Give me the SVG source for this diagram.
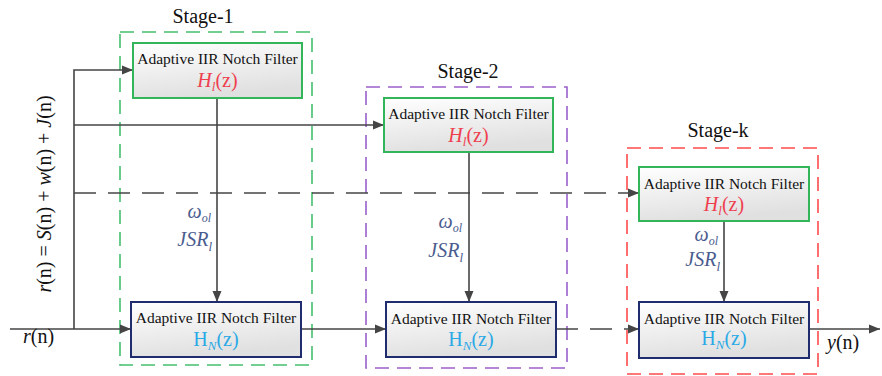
<svg xmlns="http://www.w3.org/2000/svg" width="882" height="376" viewBox="0 0 882 376" font-family="'Liberation Serif', 'Times New Roman', Times, Tinos, 'Noto Serif', 'DejaVu Serif', FreeSerif, serif">
  <defs>
    <linearGradient id="boxFill" x1="0" y1="0" x2="0.3" y2="1">
      <stop offset="0" stop-color="#ffffff"/>
      <stop offset="1" stop-color="#e0e0e0"/>
    </linearGradient>
    <marker id="arrow" markerUnits="userSpaceOnUse" markerWidth="12" markerHeight="10" refX="11" refY="5" orient="auto">
      <path d="M0,0.5 L11,5 L0,9.5 z" fill="#454545"/>
    </marker>
  </defs>
  <style>
    text { font-family: 'Liberation Serif', 'Times New Roman', Times, Tinos, 'Noto Serif', 'DejaVu Serif', FreeSerif, serif; }
    .stage { fill: none; stroke-width: 1.6; stroke-dasharray: 14 8; }
    .filt-top { fill: url(#boxFill); stroke: #33b55a; stroke-width: 2; }
    .filt-bot { fill: url(#boxFill); stroke: #1f2d6e; stroke-width: 2; }
    .title { font-size: 15.5px; fill: #111; text-anchor: middle; }
    .hl { font-size: 20px; fill: #ef3f4f; text-anchor: middle; }
    .hn { font-size: 20px; fill: #2aa9e6; text-anchor: middle; }
    .param { font-size: 20px; fill: #4a5c8e; text-anchor: end; font-style: italic; }
    .label { font-size: 20px; fill: #111; }
    .wire { fill: none; stroke: #454545; stroke-width: 1.6; }
    .dash { stroke-dasharray: 22 12; }
  </style>

  <!-- stage enclosures -->
  <g id="stage-1">
    <rect class="stage" x="120" y="32" width="192" height="333" stroke="#45bf6e"/>
    <text class="label" x="203" y="23" text-anchor="middle">Stage-1</text>
  </g>
  <g id="stage-2">
    <rect class="stage" x="366" y="87" width="201" height="281" stroke="#9a5fcc"/>
    <text class="label" x="468" y="78" text-anchor="middle">Stage-2</text>
  </g>
  <g id="stage-k">
    <rect class="stage" x="627" y="148" width="191" height="226" stroke="#ff4c4c"/>
    <text class="label" x="718" y="137" text-anchor="middle">Stage-k</text>
  </g>

  <!-- connectors -->
  <g id="connectors">
    <line class="wire" x1="10" y1="329" x2="131" y2="329" marker-end="url(#arrow)"/>
    <polyline class="wire" points="74,329 74,70 133,70" marker-end="url(#arrow)"/>
    <line class="wire" x1="74" y1="125" x2="384" y2="125" marker-end="url(#arrow)"/>
    <line class="wire dash" x1="74" y1="193" x2="639" y2="193" marker-end="url(#arrow)"/>
    <line class="wire" x1="217" y1="98" x2="217" y2="302" marker-end="url(#arrow)"/>
    <line class="wire" x1="469" y1="152" x2="469" y2="302" marker-end="url(#arrow)"/>
    <line class="wire" x1="724" y1="221" x2="724" y2="302" marker-end="url(#arrow)"/>
    <line class="wire" x1="301" y1="329" x2="386" y2="329" marker-end="url(#arrow)"/>
    <line class="wire dash" x1="556" y1="329" x2="639" y2="329" marker-end="url(#arrow)"/>
    <line class="wire" x1="809" y1="329" x2="880" y2="329" marker-end="url(#arrow)"/>
  </g>

  <!-- stage 1 filters -->
  <g id="notch-1-top">
    <rect class="filt-top" x="133" y="43" width="169" height="55"/>
    <text class="title" x="217.5" y="64">Adaptive IIR Notch Filter</text>
    <text class="hl" x="217.5" y="87"><tspan font-style="italic">H</tspan><tspan font-style="italic" font-size="13" dy="4">l</tspan><tspan dy="-4">(z)</tspan></text>
  </g>
  <g id="notch-1-bottom">
    <rect class="filt-bot" x="131" y="302" width="170" height="55"/>
    <text class="title" x="216" y="323">Adaptive IIR Notch Filter</text>
    <text class="hn" x="216" y="346">H<tspan font-style="italic" font-size="13" dy="4">N</tspan><tspan dy="-4">(z)</tspan></text>
  </g>
  <g id="params-1">
    <text class="param" x="211" y="218">ω<tspan font-size="12" dy="4">ol</tspan></text>
    <text class="param" x="212" y="246">JSR<tspan font-size="13" dy="5">l</tspan></text>
  </g>

  <!-- stage 2 filters -->
  <g id="notch-2-top">
    <rect class="filt-top" x="384" y="98" width="169" height="54"/>
    <text class="title" x="468.5" y="119">Adaptive IIR Notch Filter</text>
    <text class="hl" x="468.5" y="142"><tspan font-style="italic">H</tspan><tspan font-style="italic" font-size="13" dy="4">l</tspan><tspan dy="-4">(z)</tspan></text>
  </g>
  <g id="notch-2-bottom">
    <rect class="filt-bot" x="386" y="302" width="170" height="55"/>
    <text class="title" x="471" y="324">Adaptive IIR Notch Filter</text>
    <text class="hn" x="471" y="346">H<tspan font-style="italic" font-size="13" dy="4">N</tspan><tspan dy="-4">(z)</tspan></text>
  </g>
  <g id="params-2">
    <text class="param" x="462" y="228">ω<tspan font-size="12" dy="4">ol</tspan></text>
    <text class="param" x="463" y="257">JSR<tspan font-size="13" dy="5">l</tspan></text>
  </g>

  <!-- stage k filters -->
  <g id="notch-k-top">
    <rect class="filt-top" x="639" y="167" width="170" height="54"/>
    <text class="title" x="724" y="189">Adaptive IIR Notch Filter</text>
    <text class="hl" x="724" y="211"><tspan font-style="italic">H</tspan><tspan font-style="italic" font-size="13" dy="4">l</tspan><tspan dy="-4">(z)</tspan></text>
  </g>
  <g id="notch-k-bottom">
    <rect class="filt-bot" x="639" y="302" width="170" height="56"/>
    <text class="title" x="724" y="324">Adaptive IIR Notch Filter</text>
    <text class="hn" x="724" y="345">H<tspan font-style="italic" font-size="13" dy="4">N</tspan><tspan dy="-4">(z)</tspan></text>
  </g>
  <g id="params-k">
    <text class="param" x="718" y="241">ω<tspan font-size="12" dy="4">ol</tspan></text>
    <text class="param" x="720" y="266">JSR<tspan font-size="13" dy="5">l</tspan></text>
  </g>

  <!-- signal labels -->
  <g id="signal-labels">
    <text class="label" transform="translate(51,194) rotate(-90)" text-anchor="middle"><tspan font-style="italic">r</tspan>(n) = <tspan font-style="italic">S</tspan>(n) + <tspan font-style="italic">w</tspan>(n) + <tspan font-style="italic">J</tspan>(n)</text>
    <text class="label" x="23" y="343"><tspan font-style="italic">r</tspan>(n)</text>
    <text class="label" x="827" y="349"><tspan font-style="italic">y</tspan>(n)</text>
  </g>
</svg>
